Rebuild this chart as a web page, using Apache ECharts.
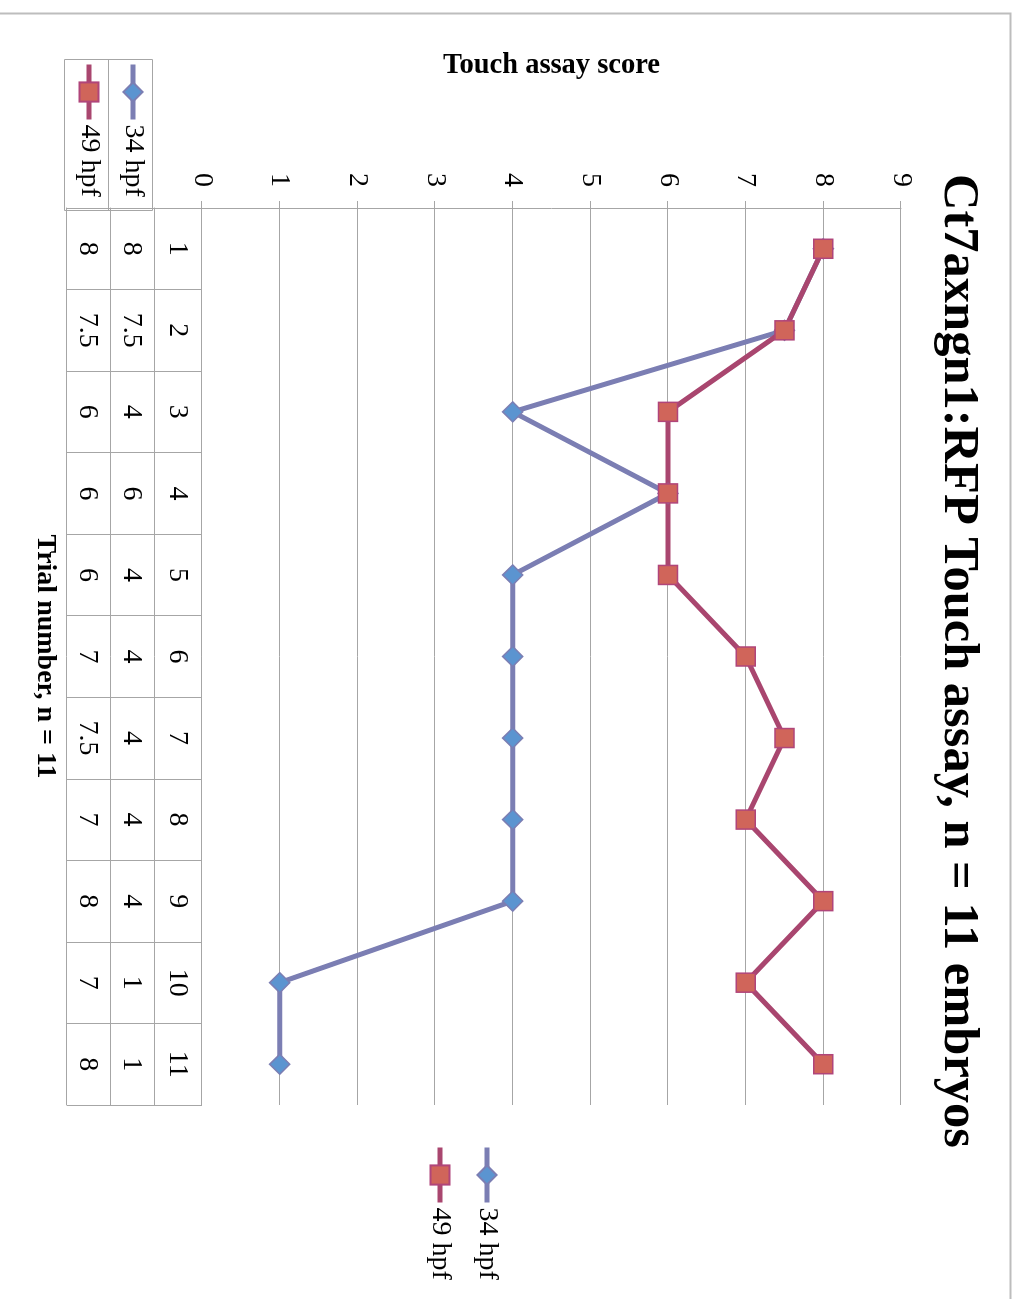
<!DOCTYPE html>
<html>
<head>
<meta charset="utf-8">
<script src="https://cdn.jsdelivr.net/npm/echarts@6/dist/echarts.min.js"></script>
<style>
  html, body { margin: 0; padding: 0; background: #fff; overflow: hidden; width: 1021px; height: 1299px; }
  /* The chart is laid out in its own landscape frame and turned a quarter turn clockwise onto the page. */
  #chart { position: absolute; left: 0; top: 0; width: 1299px; height: 1021px;
           transform-origin: 0 0; transform: translate(1021px, 0) rotate(90deg); }
</style>
</head>
<body>
<div id="chart"></div>
<script>
// Trial numbers (categories)
const trials = ['1', '2', '3', '4', '5', '6', '7', '8', '9', '10', '11'];
// Touch assay scores per trial
const score34 = [8, 7.5, 4, 6, 4, 4, 4, 4, 4, 1, 1];
const score49 = [8, 7.5, 6, 6, 6, 7, 7.5, 7, 8, 7, 8];
const seriesNames = ['34 hpf', '49 hpf'];
const chartTitle = 'Ct7axngn1:RFP Touch assay, n = 11 embryos';
const valueAxisTitle = 'Touch assay score';
const categoryAxisTitle = 'Trial number, n = 11';

const FONT = "'Liberation Serif', 'Times New Roman', serif";
const GRID_COLOR = '#a6a6a6';
const C34 = { line: '#7b7eb3', fill: '#5b94d0' };
const C49 = { line: '#a9466f', fill: '#d0655a', border: '#b0457a' };

const textBase = { fontFamily: FONT, fontSize: 28, color: '#000', lineHeight: 28 };
const gridLine = { color: GRID_COLOR, width: 1 };

// One category axis per data-table row; the ticks form the table's column rules.
function tableAxis(offset, tickLen, formatter, extra) {
  return Object.assign({
    type: 'category',
    data: trials,
    position: 'bottom',
    offset: offset,
    boundaryGap: true,
    axisLine: { show: true, onZero: false, lineStyle: gridLine },
    axisTick: { show: tickLen > 0, length: tickLen, interval: 0, lineStyle: gridLine },
    axisLabel: {
      show: !!formatter, interval: 0, margin: 24, verticalAlign: 'middle',
      formatter: formatter, ...textBase
    },
    splitLine: { show: false }
  }, extra || {});
}

const legendCommon = {
  data: seriesNames, orient: 'vertical', padding: 0,
  itemWidth: 55, itemHeight: 24, selectedMode: false,
  lineStyle: { width: 5 },
  textStyle: { ...textBase }
};

const chart = echarts.init(document.getElementById('chart'), null, { renderer: 'canvas' });

chart.setOption({
  animation: false,
  backgroundColor: '#fff',
  title: {
    text: chartTitle,
    left: 656,
    top: 32,
    textAlign: 'center',
    textStyle: { fontFamily: FONT, fontSize: 50.5, fontWeight: 'bold', color: '#000' }
  },
  grid: { left: 208, right: 194, top: 120, bottom: 202, containLabel: false },
  xAxis: [
    tableAxis(0, 47, (v) => v, {
      axisLabel: { show: true, interval: 0, margin: 25, verticalAlign: 'middle', ...textBase },
      name: categoryAxisTitle,
      nameLocation: 'middle',
      nameGap: 143,
      nameTextStyle: { fontFamily: FONT, fontSize: 28, fontWeight: 'bold', color: '#000', lineHeight: 28 }
    }),
    tableAxis(47, 44, (v, i) => String(score34[i])),
    tableAxis(91, 44, (v, i) => String(score49[i])),
    tableAxis(135, 0, null)
  ],
  yAxis: {
    type: 'value',
    min: 0, max: 9, interval: 1,
    axisLine: { show: true, lineStyle: gridLine },
    axisTick: { show: true, length: 7, lineStyle: gridLine },
    splitLine: { show: true, lineStyle: gridLine },
    axisLabel: { margin: 21, ...textBase },
    name: valueAxisTitle,
    nameLocation: 'middle',
    nameRotate: 90,
    nameGap: 128,
    nameTextStyle: { fontFamily: FONT, fontSize: 28.5, fontWeight: 'bold', color: '#000', lineHeight: 28 }
  },
  legend: [
    // legend on the right of the plot
    Object.assign({}, legendCommon, { left: 1145, top: 520, itemGap: 19 }),
    // series keys in the data table's name column
    Object.assign({}, legendCommon, { left: 62, top: 874, itemGap: 16 })
  ],
  graphic: [
    // outer chart frame
    { type: 'rect', left: 11, top: 8, shape: { width: 1400, height: 1100 }, silent: true,
      style: { fill: 'none', stroke: '#bdbdbd', lineWidth: 2 } },
    // name column of the data table
    { type: 'rect', left: 57, top: 866, shape: { width: 151, height: 88 }, silent: true,
      style: { fill: 'none', stroke: GRID_COLOR, lineWidth: 1 } },
    { type: 'line', left: 57, top: 910, shape: { x1: 0, y1: 0, x2: 151, y2: 0 }, silent: true,
      style: { stroke: GRID_COLOR, lineWidth: 1 } }
  ],
  series: [
    {
      name: seriesNames[0], type: 'line', data: score34,
      symbol: 'diamond', symbolSize: 20,
      lineStyle: { color: C34.line, width: 5 },
      itemStyle: { color: C34.fill, borderColor: C34.line, borderWidth: 1.5 },
      emphasis: { disabled: true }
    },
    {
      name: seriesNames[1], type: 'line', data: score49,
      symbol: 'rect', symbolSize: 19,
      lineStyle: { color: C49.line, width: 5 },
      itemStyle: { color: C49.fill, borderColor: C49.border, borderWidth: 1.5 },
      emphasis: { disabled: true }
    }
  ]
});
</script>
</body>
</html>
